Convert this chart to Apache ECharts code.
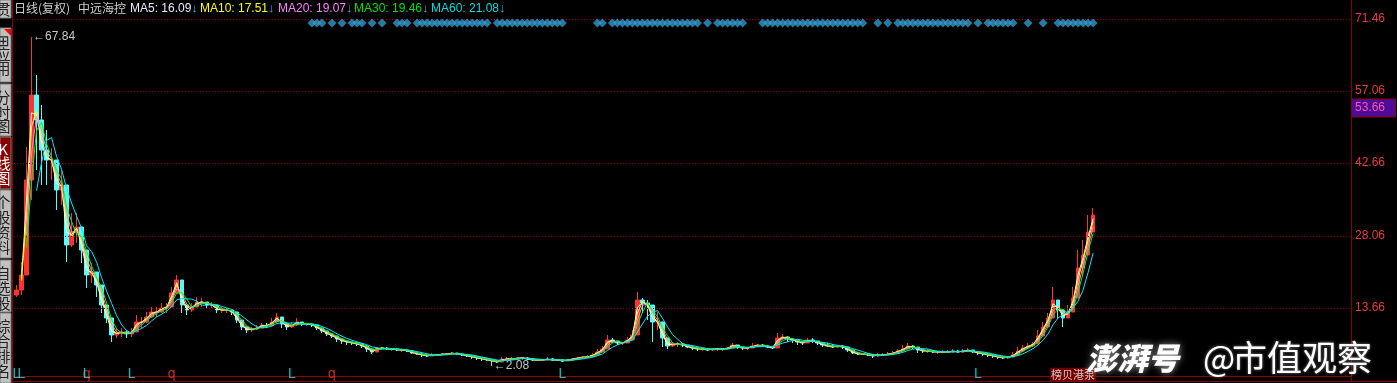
<!DOCTYPE html>
<html><head><meta charset="utf-8">
<script src="https://cdn.jsdelivr.net/npm/echarts@6/dist/echarts.min.js"></script>
<style>html,body{margin:0;padding:0;background:#000;overflow:hidden}#c{width:1397px;height:383px;}</style>
</head><body><div id="c"></div>
<script>
// ---- data (one bar ≈ 15 trading days) ----
const closes = [
17.26,20.26,39.26,56.26,51.26,45.26,43.26,43.26,37.26,38.26,
26.26,28.86,29.86,25.26,20.26,20.86,18.26,14.26,11.66,8.26,
8.66,8.86,8.46,8.86,10.86,10.86,11.86,12.86,12.86,13.66,
13.86,16.66,19.26,14.26,13.26,13.86,14.86,14.86,14.26,14.26,
13.26,13.26,13.26,12.86,11.26,9.86,9.26,9.46,9.66,10.26,
10.06,10.86,11.86,10.46,9.86,10.26,10.86,10.46,10.46,10.26,
9.66,9.06,8.46,8.06,7.46,7.06,6.86,6.66,6.46,6.06,
5.46,4.86,5.66,5.66,5.46,5.46,5.26,5.26,5.06,4.66,
4.46,4.26,4.06,4.26,4.26,4.46,4.46,4.66,4.46,4.26,
4.06,3.86,3.66,3.46,3.26,3.06,2.86,3.46,3.46,3.46,
3.66,3.66,3.46,3.26,3.26,3.26,3.46,3.26,3.26,3.06,
3.26,3.46,3.66,3.86,3.86,4.26,4.86,5.46,7.26,7.06,
6.66,6.66,7.26,8.26,15.26,14.66,14.26,10.86,10.86,7.66,
6.06,6.46,6.46,6.26,5.86,5.66,5.46,5.46,5.26,5.46,
5.46,5.46,5.66,6.26,5.86,5.66,5.66,6.06,6.26,6.06,
5.86,5.66,7.66,7.86,7.46,7.26,6.86,6.66,7.26,7.06,
6.66,6.26,6.06,5.86,6.06,5.86,5.26,4.66,4.46,4.46,
4.26,4.06,4.26,4.26,4.46,4.66,5.06,5.46,6.06,5.86,
5.26,5.06,5.06,4.86,4.86,4.86,4.86,5.06,4.86,5.06,
5.26,4.86,4.66,4.46,4.26,4.06,3.86,3.66,3.86,4.26,
5.06,5.66,6.06,6.46,8.06,9.86,11.66,15.26,13.26,11.66,
12.86,15.66,21.66,24.26,28.86,32.26];
const highs = [
18.26,22.86,45.86,67.84,60.26,54.26,49.26,45.66,42.26,41.26,
32.26,32.66,32.66,27.26,22.66,22.66,20.66,15.86,13.86,10.66,
9.66,9.66,9.26,9.66,12.26,11.86,12.86,13.86,13.86,14.66,
14.66,17.86,20.26,15.86,14.26,14.66,15.86,15.66,14.86,14.86,
14.26,13.86,13.66,13.26,11.86,10.66,9.86,9.86,10.26,10.66,
10.66,11.66,12.66,11.26,10.66,10.86,11.66,10.86,10.66,10.66,
10.26,9.66,8.86,8.66,7.86,7.66,7.26,6.86,6.86,6.66,
6.26,5.66,5.86,5.86,5.86,5.66,5.66,5.46,5.26,5.06,
4.66,4.66,4.46,4.66,4.46,4.66,4.66,4.86,4.66,4.66,
4.26,4.06,3.86,3.66,3.46,3.46,3.26,3.86,3.86,3.86,
3.86,3.86,3.86,3.66,3.46,3.46,3.86,3.66,3.46,3.46,
3.46,3.66,3.86,4.06,4.26,4.66,5.46,6.06,8.26,7.66,
7.06,6.86,7.86,9.26,16.86,15.66,15.26,12.86,12.86,9.86,
6.86,6.86,6.86,6.66,6.26,6.06,5.86,5.86,5.66,5.66,
5.66,5.66,5.86,6.66,6.26,5.86,5.86,6.66,6.46,6.46,
6.26,5.86,8.66,8.46,8.06,7.66,7.26,7.06,7.66,7.66,
7.06,6.66,6.66,6.46,6.26,6.26,5.86,5.06,4.86,4.66,
4.66,4.46,4.66,4.66,4.86,5.06,5.46,6.26,6.66,6.26,
5.66,5.46,5.46,5.26,5.06,5.26,5.26,5.46,5.26,5.46,
5.66,5.26,4.86,4.66,4.66,4.26,4.06,3.86,4.06,4.86,
5.86,6.26,6.66,6.86,9.26,10.86,12.66,17.86,14.26,13.26,
14.26,17.86,25.26,27.26,32.26,33.66];
const lows = [
15.86,16.26,21.86,35.26,41.26,38.26,38.26,39.26,33.26,34.26,
22.86,25.86,26.66,22.66,17.66,18.66,15.86,12.66,10.66,6.86,
7.66,7.86,7.66,7.86,9.26,9.66,10.66,11.66,11.86,12.66,
12.66,14.66,16.66,12.66,12.26,12.86,13.86,13.86,13.66,13.66,
12.66,12.66,12.66,12.26,10.66,9.26,8.66,8.86,9.26,9.66,
9.66,9.86,10.66,9.66,9.26,9.66,10.06,10.06,10.06,9.86,
9.26,8.66,8.06,7.66,6.86,6.46,6.26,6.26,6.06,5.66,
4.86,4.46,5.26,5.26,5.26,5.06,5.06,4.86,4.86,4.46,
4.26,3.86,3.86,4.06,4.06,4.26,4.26,4.26,4.26,4.06,
3.86,3.46,3.26,3.06,3.06,2.08,2.66,3.06,3.26,3.26,
3.26,3.26,3.26,3.06,3.06,3.06,3.26,3.06,3.06,2.86,
3.06,3.06,3.26,3.46,3.66,3.86,4.26,4.86,6.26,6.66,
6.26,6.26,6.66,7.26,11.86,12.66,11.26,6.86,9.26,5.86,
5.46,5.86,5.86,5.86,5.66,5.26,5.06,5.06,5.06,5.06,
5.06,5.06,5.26,5.66,5.46,5.26,5.26,5.66,5.86,5.86,
5.66,5.46,6.66,7.26,6.86,6.66,6.26,6.26,6.66,6.66,
6.26,5.86,5.86,5.66,5.66,5.46,4.86,4.46,4.26,4.26,
4.06,3.66,3.86,4.06,4.26,4.26,4.46,4.86,5.46,5.46,
4.66,4.66,4.66,4.66,4.46,4.66,4.66,4.66,4.66,4.66,
4.86,4.66,4.26,4.06,3.86,3.66,3.46,3.46,3.46,3.86,
4.26,4.86,5.46,5.86,6.66,8.66,9.86,12.66,11.66,9.86,
11.86,13.86,17.26,20.26,24.26,29.66];
const firstOpen = 16.26;
const totalSlots = 267;
const daysPerBar = 15;
const yTicks = [13.66, 28.06, 42.66, 57.06, 71.46];
const yMin = -0.94, yMax = 71.46;
const lastPrice = 53.66;
const maNames = ['MA5', 'MA10', 'MA20', 'MA30', 'MA60'];
const maDays = [5, 10, 20, 30, 60];
const maHeaderValues = ['16.09', '17.51', '19.07', '19.46', '21.08'];
const signalBars = [59,60,61,63,65,67,68,69,71,73,76,77,78,80,81,82,83,84,85,86,87,88,89,90,91,92,93,94,
96,97,98,99,100,101,102,103,104,105,106,107,108,109,116,117,119,120,121,122,123,124,125,126,127,128,129,130,131,132,133,134,135,136,
138,140,141,142,143,144,145,149,150,151,152,153,154,155,156,157,158,159,160,161,162,163,164,165,166,167,168,169,
172,174,176,177,178,179,180,181,182,183,184,185,186,187,188,189,190,192,194,195,196,197,198,199,202,205,
208,209,210,211,212,213,214,215];
const signalLevel = 70.66;
const markBars = [0, 1, 14, 14, 23, 31, 55, 63, 109, 192];
const markTexts = ['L', 'L', 'q', 'L', 'L', 'q', 'L', 'q', 'L', 'L'];
const markLevel = 0.5;
const boxBar = 211, boxText = '榜贝港泵', boxLevel = 0.3;

// ---- styles ----
const maColors = ['#ffffff', '#ffff00', '#ff80ff', '#00ff00', '#00e8ff'];
const maHeadColors = ['#e8e8ff', '#ffff00', '#ff80ff', '#00e000', '#00dede'];
const DR = '#8b0000';
const NUM = '"Liberation Sans", Arial, sans-serif';
const CJK = '"Noto Sans CJK SC", sans-serif';

const cats = Array.from({length: totalSlots}, (_, i) => String(i));
const kData = closes.map((c, i) => {
  const o = i ? closes[i - 1] : firstOpen;
  return [o, c, Math.min(lows[i], o, c), Math.max(highs[i], o, c)];
});
function movingAverage(values, days) {
  const w = (days - 1) / daysPerBar + 1;
  const full = Math.floor(w), frac = w - full;
  const need = frac > 0 ? full + 1 : full;
  return values.map((_, i) => {
    if (i < need - 1) return '-';
    let s = 0, n = 0;
    for (let k = 0; k < full; k++) { s += values[i - k]; n += 1; }
    if (frac > 0) { s += values[i - full] * frac; n += frac; }
    return +(s / n).toFixed(3);
  });
}
const hiIdx = highs.indexOf(Math.max(...highs));
const loIdx = lows.indexOf(Math.min(...lows));

const maSeries = maNames.map((n, k) => ({
  name: n, type: 'line', data: movingAverage(closes, maDays[k]),
  showSymbol: false, symbol: 'none', silent: true, z: 3 + k,
  lineStyle: {color: maColors[k], width: 1}
}));

// ---- graphics: header, side buttons, watermark ----
const g = [];
g.push({type: 'text', left: 14, top: 2, z: 100, style: {
  text: '日线(复权)', fill: '#cccccc', font: '12px ' + CJK}});
g.push({type: 'text', left: 78, top: 2, z: 100, style: {
  text: '中远海控', fill: '#cccccc', font: '12px ' + CJK}});
const headX = [130, 200, 278, 354, 431];
maNames.forEach((n, k) => {
  g.push({type: 'text', left: headX[k], top: 2, z: 100, style: {
    text: '{t|' + n + ': ' + maHeaderValues[k] + '}{a|↓}',
    rich: {t: {fill: maHeadColors[k], font: '12px ' + NUM},
           a: {fill: '#2fb4e8', font: 'bold 13px ' + NUM}}}});
});
const buttons = [
  {y: 0, h: 18, fill: '#c0c0c0', color: '#222', chars: ['贯'], cy: [9]},
  {y: 28, h: 54, fill: '#c0c0c0', color: '#222', chars: ['⊞', '应', '用'], cy: [40, 54, 68]},
  {y: 84, h: 52, fill: '#c0c0c0', color: '#222', chars: ['分', '时', '图'], cy: [97, 112, 126]},
  {y: 137, h: 52, fill: '#8b0000', color: '#ffffff', chars: ['K', '线', '图'], cy: [149, 163, 178]},
  {y: 190, h: 68, fill: '#c0c0c0', color: '#222', chars: ['个', '股', '资', '料'], cy: [202, 217, 232, 247]},
  {y: 260, h: 52, fill: '#c0c0c0', color: '#222', chars: ['自', '选', '股'], cy: [273, 288, 303]},
  {y: 313, h: 70, fill: '#c0c0c0', color: '#222', chars: ['综', '合', '排', '名'], cy: [326, 341, 356, 371]}
];
buttons.forEach(b => {
  g.push({type: 'rect', shape: {x: 0, y: b.y, width: 11, height: b.h}, z: 90,
          style: {fill: b.fill, stroke: '#808080', lineWidth: 1}});
  b.chars.forEach((ch, j) => {
    g.push({type: 'text', x: 3, y: b.cy[j], z: 91, style: {
      text: ch, fill: b.color, font: '15px ' + CJK, align: 'center', verticalAlign: 'middle'}});
  });
});
g.push({type: 'polygon', shape: {points: [[4, 29], [11, 29], [11, 36]]}, z: 92, style: {fill: '#ff0000'}});
g.push({type: 'rect', shape: {x: 12, y: 0, width: 1, height: 383}, z: 95, style: {fill: DR}});
g.push({type: 'rect', shape: {x: 1351, y: 0, width: 1, height: 20}, z: 95, style: {fill: DR}});
g.push({type: 'rect', shape: {x: 12, y: 381, width: 1385, height: 1}, z: 95, style: {fill: DR}});
g.push({type: 'text', x: 1086, y: 358, z: 110, style: {
  text: '澎湃号', fill: '#ffffff', font: 'italic 900 31px ' + CJK, verticalAlign: 'middle',
  textShadowColor: 'rgba(170,170,170,0.95)', textShadowBlur: 7}});
g.push({type: 'text', x: 1203, y: 358, z: 110, style: {
  text: '@', fill: '#ffffff', font: '34px ' + CJK, verticalAlign: 'middle',
  textShadowColor: 'rgba(150,150,150,0.9)', textShadowBlur: 3}});
g.push({type: 'text', x: 1232, y: 358, z: 110, style: {
  text: '市值观察', fill: '#ffffff', font: '35px ' + CJK, verticalAlign: 'middle',
  textShadowColor: 'rgba(150,150,150,0.9)', textShadowBlur: 3}});

const chart = echarts.init(document.getElementById('c'), null, {renderer: 'canvas'});
chart.setOption({
  backgroundColor: '#000000',
  animation: false,
  grid: {left: 14, right: 46, top: 19, bottom: 2, containLabel: false},
  xAxis: {type: 'category', data: cats, boundaryGap: true,
    axisLine: {show: true, lineStyle: {color: DR}}, axisTick: {show: false},
    axisLabel: {show: false}, splitLine: {show: false}},
  yAxis: {type: 'value', position: 'right', min: yMin, max: yMax, scale: true,
    axisLine: {show: true, lineStyle: {color: DR}}, axisTick: {show: false},
    splitLine: {show: false},
    axisLabel: {customValues: yTicks, formatter: v => v.toFixed(2), color: '#e83c3c',
      fontFamily: NUM, fontSize: 12, margin: 4}},
  graphic: g,
  series: [
    {name: 'K', type: 'candlestick', data: kData, barWidth: 4, z: 2, silent: true,
     itemStyle: {color: '#ff3232', color0: '#54fcfc', borderColor: '#ff3232', borderColor0: '#54fcfc', borderWidth: 1},
     markLine: {silent: true, symbol: ['none', 'none'], animation: false,
       data: yTicks.map(v => ({yAxis: v, lineStyle: {color: DR, type: [1, 2], width: 1}, label: {show: false}}))
         .concat([{yAxis: lastPrice, lineStyle: {color: 'rgba(0,0,0,0)', width: 0}, label: {show: true, position: 'end', distance: 1,
           formatter: lastPrice.toFixed(2), color: '#ff55a8', backgroundColor: '#4e0c98',
           borderColor: DR, borderWidth: 1, padding: [3, 10, 2, 3], fontFamily: NUM, fontSize: 12}}])},
     markPoint: {silent: true, symbol: 'circle', symbolSize: 1, itemStyle: {color: 'transparent'}, animation: false,
       label: {show: true, position: 'right', distance: 1, color: '#c8c8c8', fontFamily: NUM, fontSize: 12},
       data: [{coord: [hiIdx, highs[hiIdx]], label: {formatter: '←' + highs[hiIdx].toFixed(2)}},
              {coord: [loIdx, lows[loIdx]], label: {formatter: '←' + lows[loIdx].toFixed(2)}}]}}
  ].concat(maSeries).concat([
    {name: 'signal', type: 'scatter', data: signalBars.map(i => [i, signalLevel]), symbol: 'diamond',
     symbolSize: [9, 9], clip: false, silent: true, z: 10, itemStyle: {color: '#3399cc'}},
    {name: 'marks', type: 'scatter', clip: false, silent: true, z: 12, symbolSize: 1,
     itemStyle: {color: 'transparent'},
     label: {show: true, position: 'inside', formatter: p => p.name, fontFamily: NUM, fontSize: 14},
     data: markBars.map((b, k) => ({name: markTexts[k], value: [b, markLevel],
       label: {color: markTexts[k] === 'q' ? '#ff3030' : '#00f0f0'}}))
       .concat([{name: boxText, value: [boxBar, boxLevel],
         label: {color: '#f0f0f0', backgroundColor: '#8b0000', padding: [2, 1, 1, 1], fontSize: 11, fontFamily: CJK}}])}
  ])
});
</script></body></html>
